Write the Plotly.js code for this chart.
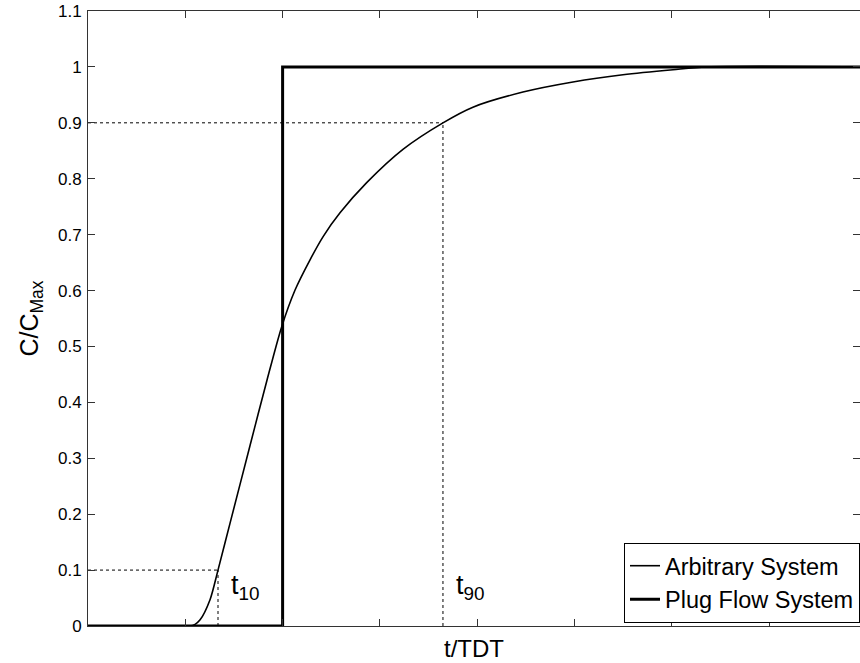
<!DOCTYPE html>
<html>
<head>
<meta charset="utf-8">
<script src="https://cdn.plot.ly/plotly-3.0.1.min.js"></script>
<style>html,body{margin:0;padding:0;background:#fff;}#chart{width:860px;height:663px;}</style>
</head>
<body>
<div id="chart"></div>
<script>
// Arbitrary system response curve (t/TDT, C/Cmax)
const arbT = [0, 0.524, 0.55, 0.576, 0.627, 0.668, 0.730, 0.832, 0.920, 0.995, 1.064, 1.141, 1.209, 1.295, 1.432, 1.620, 1.824, 1.978, 2.235, 2.492, 2.749, 3.006, 3.181, 3.967];
const arbC = [0, 0, 0.003, 0.011, 0.047, 0.100, 0.184, 0.322, 0.440, 0.535, 0.601, 0.655, 0.697, 0.739, 0.793, 0.853, 0.900, 0.928, 0.955, 0.973, 0.986, 0.995, 1.0, 1.0];
// Plug flow system
const plugT = [0, 1, 1, 3.967];
const plugC = [0, 0, 1, 1];
// Markers for t10 and t90
const t10 = 0.668, c10 = 0.1;
const t90 = 1.824, c90 = 0.9;
const yTicks = [0, 0.1, 0.2, 0.3, 0.4, 0.5, 0.6, 0.7, 0.8, 0.9, 1, 1.1];
const yTickText = ['0', '0.1', '0.2', '0.3', '0.4', '0.5', '0.6', '0.7', '0.8', '0.9', '1', '1.1'];
const xTicks = [0, 0.5, 1, 1.5, 2, 2.5, 3, 3.5];

const dotLine = {color: '#000', width: 1, dash: 'dot'};
const traces = [
  {x: [0, t10], y: [c10, c10], mode: 'lines', line: dotLine, showlegend: false, hoverinfo: 'skip'},
  {x: [t10, t10], y: [0, c10], mode: 'lines', line: dotLine, showlegend: false, hoverinfo: 'skip'},
  {x: [0, t90], y: [c90, c90], mode: 'lines', line: dotLine, showlegend: false, hoverinfo: 'skip'},
  {x: [t90, t90], y: [0, c90], mode: 'lines', line: dotLine, showlegend: false, hoverinfo: 'skip'},
  {x: arbT, y: arbC, mode: 'lines', name: 'Arbitrary System', line: {color: '#000', width: 1.6, shape: 'spline', smoothing: 0.8}},
  {x: plugT, y: plugC, mode: 'lines', name: 'Plug Flow System', line: {color: '#000', width: 3}}
];

const FAM = 'Liberation Sans, Arial, sans-serif';
const layout = {
  width: 860, height: 663,
  margin: {l: 88, r: 0, t: 11, b: 37},
  paper_bgcolor: '#fff', plot_bgcolor: '#fff',
  font: {family: FAM, size: 17, color: '#000'},
  showlegend: true,
  legend: {
    x: 1, xanchor: 'right', y: 0.005, yanchor: 'bottom',
    bordercolor: '#000', borderwidth: 1, bgcolor: '#fff',
    font: {family: FAM, size: 23.5, color: '#000'},
    tracegroupgap: 0
  },
  xaxis: {
    range: [0, 3.967], tickvals: xTicks, showticklabels: false,
    ticks: 'inside', ticklen: 7, tickcolor: '#333', tickwidth: 1,
    showline: true, linecolor: '#333', linewidth: 1, mirror: 'ticks',
    showgrid: false, zeroline: false,
    title: {text: 't/TDT', font: {family: FAM, size: 24, color: '#000'}, standoff: 14},
    automargin: false
  },
  yaxis: {
    range: [0, 1.1], tickvals: yTicks, ticktext: yTickText,
    ticks: 'inside', ticklen: 7, tickcolor: '#333', tickwidth: 1,
    showline: true, linecolor: '#333', linewidth: 1, mirror: 'ticks',
    showgrid: false, zeroline: false,
    tickfont: {family: FAM, size: 17, color: '#000'},
    ticklabelstandoff: 2,
    title: {text: 'C/C<sub>Max</sub>', font: {family: FAM, size: 25, color: '#000'}, standoff: 12},
    automargin: false
  },
  annotations: [
    {x: t10, y: 0.07, xref: 'x', yref: 'y', text: 't<sub>10</sub>', showarrow: false, xanchor: 'left', yanchor: 'middle', xshift: 11, font: {family: FAM, size: 27, color: '#000'}},
    {x: t90, y: 0.07, xref: 'x', yref: 'y', text: 't<sub>90</sub>', showarrow: false, xanchor: 'left', yanchor: 'middle', xshift: 11, font: {family: FAM, size: 27, color: '#000'}}
  ]
};

Plotly.newPlot('chart', traces, layout, {displayModeBar: false, staticPlot: true});
</script>
</body>
</html>
